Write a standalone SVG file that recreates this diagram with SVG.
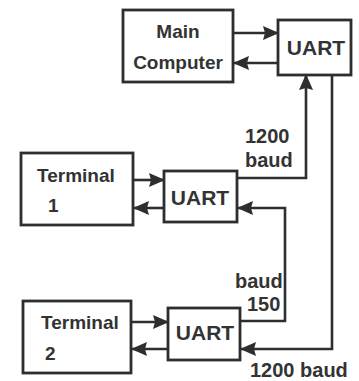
<svg xmlns="http://www.w3.org/2000/svg" width="359" height="381" viewBox="0 0 359 381">
<defs>
<style>
.box{fill:#fff;stroke:#2e2e2e;stroke-width:2.8}
.ln{fill:none;stroke:#2e2e2e;stroke-width:2.6;marker-end:url(#ah)}
text{font-family:"Liberation Sans",Arial,sans-serif;font-weight:bold;fill:#333}
.t19{font-size:19px}
.t20{font-size:20px}
.u{font-size:21px}
</style>
<marker id="ah" markerUnits="userSpaceOnUse" markerWidth="18" markerHeight="16" refX="15" refY="7" orient="auto">
<path d="M0,0 L16,7 L0,14 L2,7 z" fill="#2e2e2e"/>
</marker>
</defs>
<rect width="359" height="381" fill="#fff"/>
<g id="connectors">
<line class="ln" x1="233" y1="33" x2="278" y2="33"/>
<line class="ln" x1="278" y1="63" x2="234" y2="63"/>
<polyline class="ln" points="237,178 306,178 306,75"/>
<polyline class="ln" points="332,75 332,349 241,349"/>
<polyline class="ln" points="240,321 285,321 285,208 238,208"/>
<line class="ln" x1="133" y1="180" x2="164" y2="180"/>
<line class="ln" x1="164" y1="208" x2="134" y2="208"/>
<line class="ln" x1="131" y1="322" x2="168" y2="322"/>
<line class="ln" x1="168" y1="349" x2="132" y2="349"/>
<text class="t20" x="245" y="143">1200</text>
<text class="t20" x="245" y="167">baud</text>
<text class="t20" x="235" y="288">baud</text>
<text class="t20" x="247" y="311">150</text>
<text class="t20" x="250" y="377">1200 baud</text>
</g>
<g id="main-computer">
<rect class="box" x="123" y="10" width="110" height="72"/>
<text class="t19" x="178" y="38" text-anchor="middle">Main</text>
<text class="t19" x="178" y="69" text-anchor="middle">Computer</text>
</g>
<g id="uart-top">
<rect class="box" x="278" y="20" width="73" height="55"/>
<text class="u" x="316" y="55" text-anchor="middle">UART</text>
</g>
<g id="terminal-1">
<rect class="box" x="21" y="153" width="112" height="72"/>
<text class="t19" x="37" y="182">Terminal</text>
<text class="t19" x="48" y="212">1</text>
</g>
<g id="uart-mid">
<rect class="box" x="164" y="171" width="73" height="51"/>
<text class="u" x="200" y="205" text-anchor="middle">UART</text>
</g>
<g id="terminal-2">
<rect class="box" x="23" y="301" width="108" height="72"/>
<text class="t19" x="41" y="329">Terminal</text>
<text class="t19" x="45" y="360">2</text>
</g>
<g id="uart-bottom">
<rect class="box" x="168" y="308" width="72" height="52"/>
<text class="u" x="205" y="340" text-anchor="middle">UART</text>
</g>
</svg>
